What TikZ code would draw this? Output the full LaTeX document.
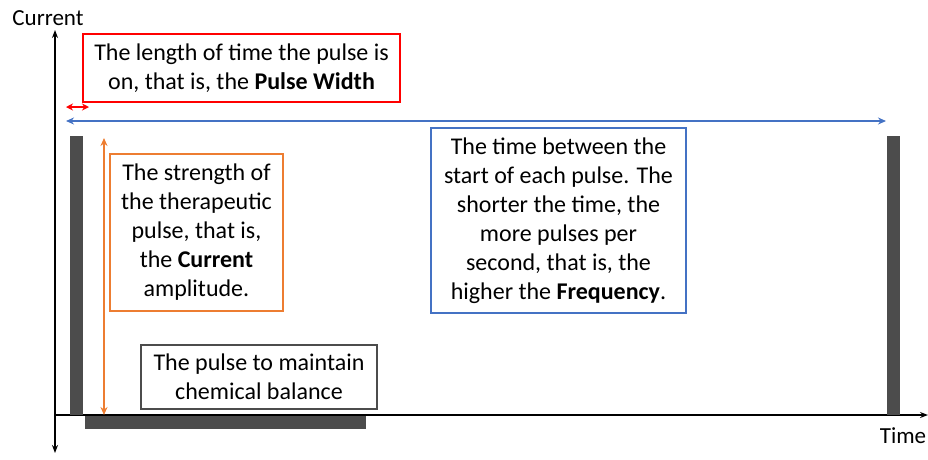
\documentclass[tikz,border=0pt]{standalone}
\usepackage{fontspec}
\setmainfont{Carlito}
\usetikzlibrary{arrows.meta}
\definecolor{cblue}{RGB}{68,114,196}
\definecolor{corange}{RGB}{237,125,49}
\begin{document}
\begin{tikzpicture}[x=1pt,y=-1pt,
  bar/.style={fill=black!70,draw=none},
  tbox/.style={draw,line width=2.2pt,align=center,font=\fontsize{24}{29}\selectfont,inner sep=0pt},
  ax/.style={line width=1.5pt,-{Stealth[length=8pt,width=6pt]}},
  dbl/.style={line width=2pt,{Stealth[length=8pt,width=7pt]}-{Stealth[length=8pt,width=7pt]}}]
\useasboundingbox (0,0) rectangle (928,459);
\coordinate (o) at (55,415);
\coordinate (yt) at (55,30);
\coordinate (yb) at (55,453);
\coordinate (xe) at (928,415);
\draw[ax] (o) -- (yt);
\draw[ax] (o) -- (yb);
\draw[ax] (o) -- (xe);
\node (cur) at (48,18) {\fontsize{23}{26}\selectfont Current};
\node (tim) at (903,436) {\fontsize{23}{26}\selectfont Time};
\fill[bar] (70,136) rectangle (83,415);
\fill[bar] (887,136) rectangle (900,415);
\fill[bar] (85,416) rectangle (366,429);
\node[tbox,draw=red,minimum width=317pt,minimum height=68pt] (rb) at (241.5,68) {The length of time the pulse is\\on, that is, the \textbf{Pulse Width}};
\node[tbox,draw=corange,minimum width=173pt,minimum height=157pt] (ob) at (196.5,232.5) {The strength of\\the therapeutic\\pulse, that is,\\the \textbf{Current}\\amplitude.};
\node[tbox,draw=cblue,minimum width=255pt,minimum height=185pt] (bb) at (558.5,220.5) {The time between the\\start of each pulse. The\\shorter the time, the\\more pulses per\\second, that is, the\\higher the \textbf{Frequency}.};
\node[tbox,draw=black!70,minimum width=236pt,minimum height=64pt] (gb) at (259,377) {The pulse to maintain\\chemical balance};
\coordinate (r1) at (66,107); \coordinate (r2) at (89,107);
\draw[dbl,red,{Stealth[length=7pt,width=7pt]}-{Stealth[length=7pt,width=7pt]}] (r1) -- (r2);
\coordinate (b1) at (66,121); \coordinate (b2) at (886,121);
\draw[dbl,cblue] (b1) -- (b2);
\coordinate (a1) at (104,138); \coordinate (a2) at (104,415);
\draw[dbl,corange] (a1) -- (a2);
\end{tikzpicture}
\end{document}
